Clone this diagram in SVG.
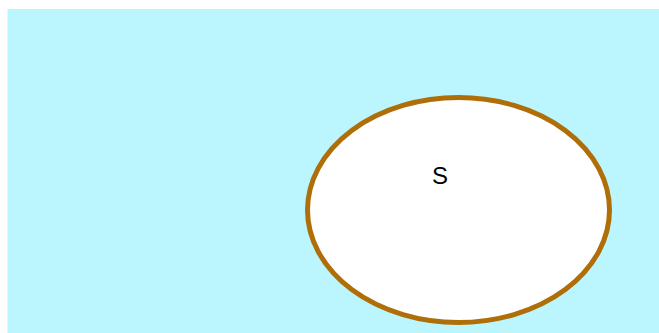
<svg xmlns="http://www.w3.org/2000/svg" width="659" height="333" viewBox="0 0 659 333">
<style>
.bg{fill:#bbf6fe}
.node{fill:#ffffff;stroke:#b06e08;stroke-width:5}
.lbl{font-family:"Liberation Sans",Arial,sans-serif;font-size:24px;fill:#000000;text-anchor:middle}
</style>
<rect class="bg" x="7.5" y="9" width="652" height="324"/>
<g id="node-s">
<ellipse class="node" cx="458.5" cy="210" rx="151" ry="112.5"/>
<text class="lbl" x="440" y="183.5">S</text>
</g>
<g id="connectors"/>
</svg>
